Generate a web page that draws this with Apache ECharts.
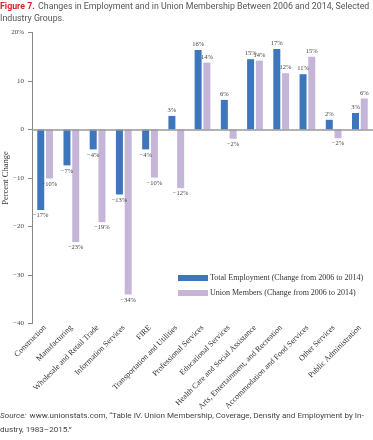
<!DOCTYPE html>
<html><head><meta charset="utf-8">
<script src="https://cdn.jsdelivr.net/npm/echarts@6/dist/echarts.min.js"></script>
<style>html,body{margin:0;padding:0;background:#fff}#c{width:373px;height:440px}</style>
</head><body><div id="c"></div>
<script>
var categories = ["Construction","Manufacturing","Wholesale and Retail Trade","Information Services","FIRE","Transportation and Utilities","Professional Services","Educational Services","Health Care and Social Assistance","Arts, Entertainment, and Recreation","Accommodation and Food Services","Other Services","Public Administration"];
var totalEmployment = [-16.6,-7.4,-4.1,-13.4,-4.1,2.8,16.4,6.1,14.5,16.6,11.4,2.0,3.4];
var unionMembers = [-10.1,-23.2,-19.1,-34.0,-9.9,-12.1,13.8,-1.9,14.2,11.6,15.0,-1.8,6.4];
var seriesNames = ["Total Employment (Change from 2006 to 2014)","Union Members (Change from 2006 to 2014)"];
var yTicks = [-40,-30,-20,-10,0,10,20];

var serif = "'Liberation Serif', 'DejaVu Serif', serif";
var sans = "'Roboto', 'Liberation Sans', sans-serif";
function fmt(v){ var r=Math.round(v); return (r<0?'\u2212'+Math.abs(r):r)+'%'; }
function mk(arr){
  return arr.map(function(v){ return {value:v, label:{position: v>=0?'top':'bottom'}}; });
}
var chart = echarts.init(document.getElementById('c'));
chart.setOption({
  animation:false,
  graphic:[{
    type:'text', left:0, top:1,
    style:{
      text:'{r|Figure 7.} {g|Changes in Employment and in Union Membership Between 2006 and 2014, Selected}\n{g|Industry Groups.}',
      rich:{
        r:{fill:'#d4262c',fontWeight:'bold',fontSize:8.8,fontFamily:sans,lineHeight:11},
        g:{fill:'#555',fontWeight:'normal',fontSize:8.8,fontFamily:sans,lineHeight:11}
      }
    }
  },{
    type:'text', left:0, top:410,
    style:{
      text:'{i|Source:} {n|www.unionstats.com, \u201cTable IV. Union Membership, Coverage, Density and Employment by In-}\n{n|dustry, 1983\u20132015.\u201d}',
      rich:{
        i:{fontStyle:'italic',fontSize:8.1,fontFamily:sans,fill:'#444',lineHeight:14},
        n:{fontSize:8.1,fontFamily:sans,fill:'#444',lineHeight:14}
      }
    }
  }],
  legend:{
    orient:'vertical', left:178, top:274, itemWidth:30, itemHeight:6, itemGap:7, padding:0,
    icon:'rect',
    textStyle:{fontFamily:serif,fontSize:8,color:'#333',padding:[0,0,0,-3]},
    data:seriesNames
  },
  grid:{left:32,right:0,top:32.5,bottom:116.5,containLabel:false,outerBoundsMode:'none'},
  xAxis:{
    type:'category', data:categories, position:'bottom',
    axisLine:{show:false,onZero:false}, axisTick:{show:false},
    axisLabel:{interval:0, rotate:45, margin:3, fontFamily:serif, fontSize:8, color:'#333'}
  },
  yAxis:{
    type:'value', min:-40, max:20, interval:10,
    name:'Percent Change', nameLocation:'middle', nameGap:22, nameRotate:90,
    nameMoveOverlap:false,
    nameTextStyle:{fontFamily:serif,fontSize:8.5,color:'#333'},
    axisLine:{show:true,lineStyle:{color:'#888',width:1}},
    axisTick:{show:true,length:4,lineStyle:{color:'#888'}},
    axisLabel:{fontFamily:serif,fontSize:7,color:'#444',margin:8,
      formatter:function(v){ return v===20?'20%':(v<0?'\u2212'+Math.abs(v):String(v)); }},
    splitLine:{show:false}
  },
  series:[
    {name:seriesNames[0], type:'bar', data:mk(totalEmployment), barWidth:7, barGap:'25%',
     itemStyle:{color:'#3e76bc'},
     label:{show:true, distance:2, fontFamily:serif, fontSize:6.5, color:'#444', formatter:function(p){return fmt(p.value);}},
     markLine:{silent:true, symbol:'none', label:{show:false}, lineStyle:{color:'#999',width:1.5,type:'solid'}, data:[{yAxis:0}]}
    },
    {name:seriesNames[1], type:'bar', data:mk(unionMembers), barWidth:7,
     itemStyle:{color:'#c5b5d9'},
     label:{show:true, distance:2, fontFamily:serif, fontSize:6.5, color:'#444', formatter:function(p){return fmt(p.value);}}
    }
  ]
});
</script></body></html>
